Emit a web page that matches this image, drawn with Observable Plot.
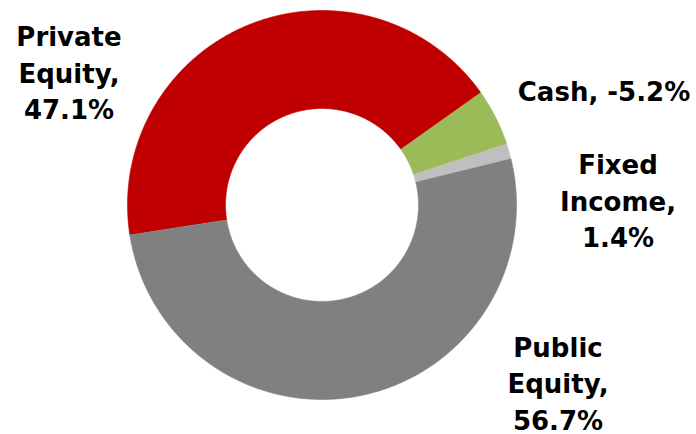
<!DOCTYPE html>
<html><head><meta charset="utf-8">
<script src="https://cdn.jsdelivr.net/npm/d3@7"></script>
<script src="https://cdn.jsdelivr.net/npm/@observablehq/plot@0.6"></script>
<style>html,body{margin:0;padding:0;background:#fff;overflow:hidden}</style>
</head><body><div id="chart"></div>
<script>
// ---- data ----
const categories = ["Private Equity", "Cash", "Fixed Income", "Public Equity"];
const values = [47.1, -5.2, 1.4, 56.7];
const colors = ["#C00000", "#9BBB59", "#BFBFBF", "#808080"];

// ---- layout ----
const W = 696, H = 434;
const CX = 321.5, CY = 204.5, R = 194.5, INNER = 0.496;
const START = 261.1 * Math.PI / 180;
// label anchor points (pixels) and whether name is wrapped
const labelLayout = {
  "Private Equity": {px: 68.5, py: 70.7, wrap: true},
  "Cash": {px: 603.5, py: 88.4, wrap: false},
  "Fixed Income": {px: 617.5, py: 198.4, wrap: true},
  "Public Equity": {px: 557.5, py: 381, wrap: true}
};

const rows = categories.map((c, i) => ({category: c, value: values[i]}));
const pie = d3.pie().sort(null).value(d => Math.abs(d.value))
  .startAngle(START).endAngle(START + 2 * Math.PI);
const arcs = pie(rows);

const pts = [];
for (const a of arcs) {
  const n = Math.max(2, Math.ceil((a.endAngle - a.startAngle) / (Math.PI / 360)));
  for (let k = 0; k <= n; k++) {
    const t = a.startAngle + (a.endAngle - a.startAngle) * k / n;
    pts.push({category: a.data.category, x: Math.sin(t), y: Math.cos(t)});
  }
  for (let k = n; k >= 0; k--) {
    const t = a.startAngle + (a.endAngle - a.startAngle) * k / n;
    pts.push({category: a.data.category, x: INNER * Math.sin(t), y: INNER * Math.cos(t)});
  }
}

const labels = rows.map(d => {
  const L = labelLayout[d.category];
  const name = L.wrap ? d.category.split(" ").join("\n") : d.category;
  const text = L.wrap ? `${name},\n${d.value.toFixed(1)}%` : `${name}, ${d.value.toFixed(1)}%`;
  return {x: (L.px - CX) / R, y: (CY - L.py) / R, text};
});

const chart = Plot.plot({
  width: W, height: H, margin: 0,
  x: {domain: [-CX / R, (W - CX) / R], range: [0, W], axis: null},
  y: {domain: [-(H - CY) / R, CY / R], range: [H, 0], axis: null},
  color: {domain: categories, range: colors},
  style: {fontFamily: "DejaVu Sans", background: "#fff"},
  marks: [
    Plot.line(pts, {x: "x", y: "y", z: "category", fill: "category", stroke: "category", strokeWidth: 0.6, curve: "linear"}),
    Plot.text(labels, {x: "x", y: "y", text: "text", fontSize: 26, fontWeight: "bold", lineHeight: 1.4, fill: "#000", fontFamily: "DejaVu Sans"})
  ]
});
document.getElementById("chart").appendChild(chart);
</script>
</body></html>
